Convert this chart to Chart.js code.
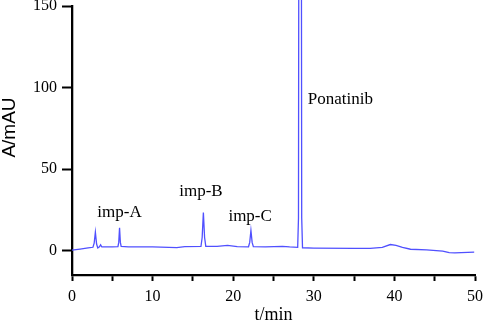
<!DOCTYPE html>
<html lang="en">
<head>
    <meta charset="UTF-8">
    <title>Chromatogram</title>
    <style>
        body { margin: 0; background: #fff; }
    </style>
</head>
<body>
    <canvas id="myChart" width="484" height="322"></canvas>

    <script src="https://cdn.jsdelivr.net/npm/chart.js"></script>
    <script>
    // retention time (min) and absorbance (mAU)
    const times = [0, 1, 2, 2.6, 2.75, 2.9, 3.05, 3.2, 3.4, 3.55, 3.7, 4, 5,
        5.7, 5.8, 5.9, 6.0, 6.1, 7, 10, 13, 14,
        16.0, 16.15, 16.3, 16.45, 16.6, 18, 19.3, 20.5,
        21.9, 22.05, 22.2, 22.35, 22.5, 24, 26.1, 27,
        28.0, 28.1, 28.3, 28.5, 28.6,
        30, 35, 37, 38.5, 39.5, 40.2, 41, 42, 44, 46, 46.8, 47.5, 49.9];
    const absorbance = [0.3, 0.9, 1.6, 2.0, 4.5, 11.3, 4.0, 1.6, 2.3, 3.5, 2.2, 2.2, 2.3,
        2.4, 5.0, 14.0, 5.0, 2.5, 2.3, 2.2, 1.8, 2.4,
        2.5, 8.0, 23.3, 8.0, 2.6, 2.5, 3.2, 2.4,
        2.3, 5.0, 12.3, 5.0, 2.4, 2.3, 2.6, 2.2,
        2.0, 20, 900, 20, 1.7,
        1.5, 1.3, 1.3, 2.0, 3.7, 3.2, 2.0, 0.8, 0.4, -0.4, -1.3, -1.4, -1.0];

    const xTicks = [0, 10, 20, 30, 40, 50];
    const yTicks = [0, 50, 100, 150];

    // peak names and where they sit (time, absorbance of text baseline)
    const peakNames = ['imp-A', 'imp-B', 'imp-C', 'Ponatinib'];
    const peakLabelX = [5.9, 16.0, 22.1, 29.25];
    const peakLabelY = [20.4, 33.7, 18.4, 90];

    const serif = 'Liberation Serif';
    const sans = 'Liberation Sans';

    const textPlugin = {
        id: 'textPlugin',
        afterDraw(chart) {
            const c = chart.ctx;
            const xs = chart.scales.x, ys = chart.scales.y;
            const area = chart.chartArea;
            c.save();
            c.fillStyle = '#000';
            // peak labels
            c.font = '17px "' + serif + '"';
            c.textBaseline = 'alphabetic';
            peakNames.forEach((n, i) => {
                c.textAlign = n === 'Ponatinib' ? 'left' : 'center';
                c.fillText(n, xs.getPixelForValue(peakLabelX[i]), ys.getPixelForValue(peakLabelY[i]));
            });
            // x title
            c.font = '18px "' + serif + '"';
            c.textAlign = 'center';
            c.fillText('t/min', (area.left + area.right) / 2, 319.5);
            // y title
            c.font = '19px "' + sans + '"';
            c.translate(10, 127.5);
            c.rotate(-Math.PI / 2);
            c.textBaseline = 'middle';
            c.fillText('A/mAU', 0, 0);
            c.restore();
        }
    };

    const ctx = document.getElementById('myChart');
    new Chart(ctx, {
        type: 'line',
        data: {
            datasets: [{
                data: times.map((t, i) => ({ x: t, y: absorbance[i] })),
                borderColor: 'rgb(80, 80, 255)',
                borderWidth: 1.3,
                pointRadius: 0,
                tension: 0,
                clip: false
            }]
        },
        options: {
            responsive: false,
            devicePixelRatio: 1,
            animation: false,
            layout: { padding: { top: 6, right: 9, left: 0, bottom: 0 } },
            plugins: { legend: { display: false }, tooltip: { enabled: false } },
            scales: {
                x: {
                    type: 'linear',
                    min: 0,
                    max: 50,
                    afterFit: s => { s.height = 47; s.paddingLeft = 0; s.paddingRight = 0; },
                    afterBuildTicks: s => { s.ticks = [0, 5, 10, 15, 20, 25, 30, 35, 40, 45, 50].map(v => ({ value: v })); },
                    ticks: {
                        autoSkip: false,
                        maxRotation: 0,
                        padding: 6,
                        color: '#000',
                        font: { family: serif, size: 16 },
                        callback: v => xTicks.includes(v) ? String(v) : ''
                    },
                    grid: { drawOnChartArea: false, tickLength: 6, tickWidth: 2, tickColor: '#000' },
                    border: { color: '#000', width: 2.3 }
                },
                y: {
                    min: -15,
                    max: 150,
                    afterFit: s => { s.width = 72; s.paddingTop = 0; s.paddingBottom = 0; },
                    afterBuildTicks: s => { s.ticks = yTicks.map(v => ({ value: v })); },
                    ticks: {
                        padding: 5,
                        color: '#000',
                        font: { family: serif, size: 16 }
                    },
                    grid: { drawOnChartArea: false, tickLength: 10, tickWidth: 2, tickColor: '#000' },
                    border: { color: '#000', width: 2.3 }
                }
            }
        },
        plugins: [textPlugin]
    });
    </script>
</body>
</html>
